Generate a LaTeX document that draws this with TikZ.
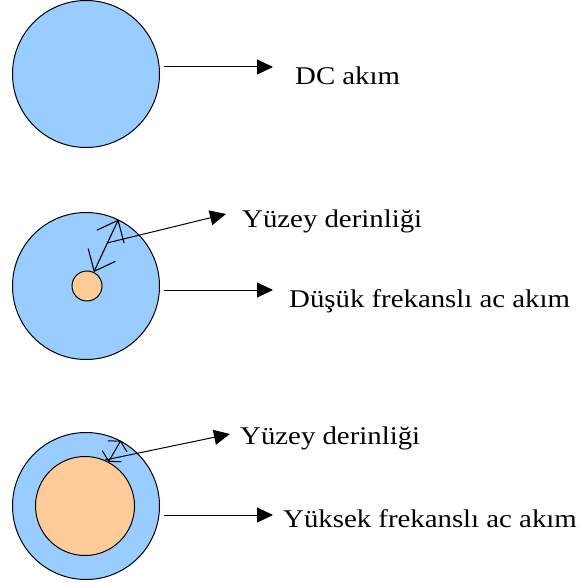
\documentclass[tikz,border=0pt]{standalone}
\usepackage{fontspec}
\setmainfont{Liberation Serif}[FakeStretch=1.13]
\usepackage{xcolor}
\usetikzlibrary{arrows.meta, positioning}
\definecolor{skyblue}{HTML}{99CCFF}
\definecolor{peach}{HTML}{FFCC99}

\begin{document}
\begin{tikzpicture}[x=1pt, y=-1pt,
  outer/.style={circle, draw=black, fill=skyblue, minimum size=147pt, inner sep=0pt, line width=1pt},
  core/.style={circle, draw=black, fill=peach, inner sep=0pt, line width=1pt},
  lbl/.style={anchor=base west, inner sep=0pt, font=\fontsize{25.5}{30}\selectfont},
  arr/.style={-{Triangle[length=16pt, width=15pt]}, line width=1pt},
  depth/.style={{Straight Barb[length=18pt, width=30pt]}-{Straight Barb[length=18pt, width=30pt]}, line width=1.1pt}
]
  \useasboundingbox (0,0) rectangle (582,583);
  % conductors
  \foreach \n/\y in {1/74, 2/286, 3/506}{
    \node[outer] (C\n) at (86,\y) {};
  }
  \node[core, minimum size=30pt] (K2) at (87,286) {};
  \node[core, minimum size=99pt] (K3) at (85,506) {};

  % labels
  \node[lbl] (T1) at (295,85) {DC akım};
  \node[lbl] (D2) at (242,227) {Yüzey derinliği};
  \node[lbl] (T2) at (289,307) {Düşük frekanslı ac akım};
  \node[lbl] (D3) at (240,444) {Yüzey derinliği};
  \node[lbl] (T3) at (283,527) {Yüksek frekanslı ac akım};

  % arrow ends
  \coordinate (E1) at (273,67);
  \coordinate (E2) at (273,290);
  \coordinate (E3) at (273,515);
  \coordinate (S2) at (107,243);
  \coordinate (F2) at (226,214);
  \coordinate (S3) at (105,460);
  \coordinate (F3) at (230,434);

  \foreach \n in {1,2,3}{
    \draw[arr, shorten <=4pt] (C\n.east |- E\n) -- (E\n);
  }
  \draw[depth] (K2.64) -- (C2.64);
  \draw[arr] (S2) -- (F2);
  \draw[{Straight Barb[length=6pt, width=22pt]}-{Straight Barb[length=6pt, width=22pt]}, line width=1pt] (K3.62) -- (C3.62);
  \draw[arr] (S3) -- (F3);
\end{tikzpicture}
\end{document}
